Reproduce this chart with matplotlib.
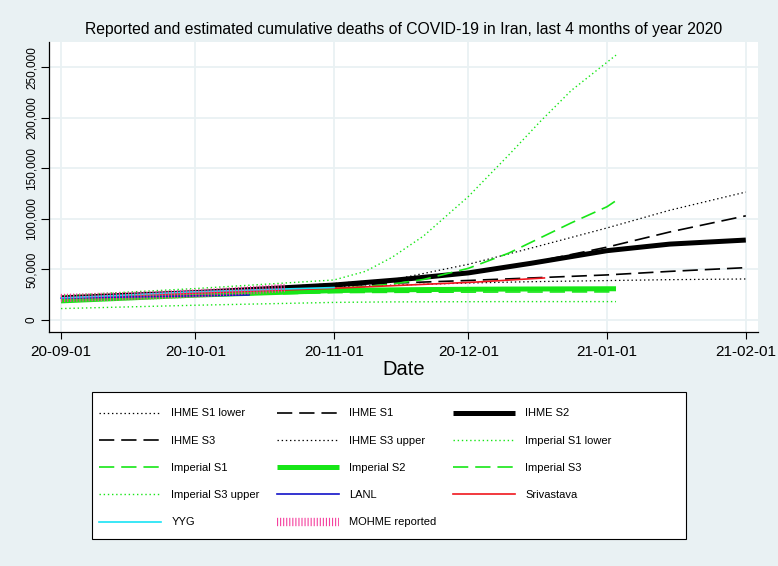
import numpy as np
import pandas as pd
import matplotlib
matplotlib.use('Agg')
import matplotlib.pyplot as plt
import matplotlib.dates as mdates
from matplotlib.patches import Rectangle
from matplotlib.ticker import FuncFormatter

plt.rcParams['font.family'] = ['Liberation Sans', 'DejaVu Sans']
plt.rcParams['lines.scale_dashes'] = False  # dash lengths in points

# cumulative deaths
ihme_dates = ['2020-09-01', '2020-10-01', '2020-11-01', '2020-11-15', '2020-12-01',
              '2020-12-15', '2021-01-01', '2021-01-15', '2021-02-01']
ihme_s1_lower = [21800, 26500, 32500, 34500, 36500, 37800, 38900, 39800, 40500]
ihme_s1 = [21900, 27100, 34700, 39800, 47000, 56500, 72000, 87000, 103000]
ihme_s2 = [21800, 27000, 34500, 39500, 46500, 56000, 68500, 75000, 79000]
ihme_s3 = [21800, 27000, 33500, 36500, 39000, 41500, 44500, 48000, 51700]
ihme_s3_upper = [22000, 27500, 36000, 40500, 55000, 71000, 91000, 108500, 126500]

imp_dates = ['2020-09-01', '2020-10-01', '2020-11-01', '2020-11-08', '2020-11-14', '2020-11-21',
             '2020-12-01', '2020-12-10', '2020-12-17', '2020-12-24', '2021-01-01', '2021-01-03']
imp_s1_lower = [11200, 14500, 17300, 17600, 17800, 17900, 18000, 18100, 18100, 18100, 18100, 18100]
imp_s1 = [19500, 25000, 31000, 33000, 35500, 40000, 51000, 66000, 81000, 96000, 112000, 118000]
imp_s2 = [18800, 24500, 29000, 29400, 29700, 30000, 30300, 30500, 30600, 30700, 30800, 30800]
imp_s3 = [18500, 24000, 27000, 27200, 27300, 27400, 27500, 27600, 27600, 27700, 27700, 27700]
imp_s3_upper = [24000, 31000, 39500, 48000, 62000, 83000, 122000, 163000, 196000, 227000, 255000, 262000]

lanl_dates = ['2020-09-01', '2020-09-15', '2020-10-01', '2020-10-13']
lanl = [21500, 22600, 23800, 24700]

sriv_dates = ['2020-09-18', '2020-10-01', '2020-11-01', '2020-12-03', '2020-12-18']
srivastava = [24700, 26500, 31300, 37500, 41500]

yyg_dates = ['2020-09-01', '2020-09-15', '2020-09-29', '2020-10-15', '2020-11-01']
yyg = [21800, 24500, 27500, 29800, 32000]

mohme_dates = ['2020-09-01', '2020-09-10', '2020-09-20', '2020-10-01', '2020-10-10', '2020-10-21']
mohme = [21600, 22800, 24100, 26200, 28300, 31600]

tick_dates = ['2020-09-01', '2020-10-01', '2020-11-01', '2020-12-01', '2021-01-01', '2021-02-01']

bg = '#e9f1f3'
green = '#17e617'
dot = (0, (1.0, 2.0))
dash = (0, (11, 5))

fig = plt.figure(figsize=(7.78, 5.66), dpi=100, facecolor=bg)
ax = fig.add_axes([0.063, 0.4134, 0.911, 0.5124])

d = pd.to_datetime
ax.plot(d(ihme_dates), ihme_s1_lower, color='black', lw=0.9, ls=dot, label='IHME S1 lower')
ax.plot(d(ihme_dates), ihme_s1, color='black', lw=1.2, ls=dash, label='IHME S1')
ax.plot(d(ihme_dates), ihme_s2, color='black', lw=3.6, solid_capstyle='butt', label='IHME S2')
ax.plot(d(ihme_dates), ihme_s3, color='black', lw=1.2, ls=dash, label='IHME S3')
ax.plot(d(ihme_dates), ihme_s3_upper, color='black', lw=0.9, ls=dot, label='IHME S3 upper')
ax.plot(d(imp_dates), imp_s1_lower, color=green, lw=1.0, ls=dot, label='Imperial S1 lower')
ax.plot(d(imp_dates), imp_s1, color=green, lw=1.2, ls=dash, label='Imperial S1')
ax.plot(d(imp_dates), imp_s2, color=green, lw=3.6, solid_capstyle='butt', label='Imperial S2')
ax.plot(d(imp_dates), imp_s3, color=green, lw=1.2, ls=dash, label='Imperial S3')
ax.plot(d(imp_dates), imp_s3_upper, color=green, lw=1.0, ls=dot, label='Imperial S3 upper')
ax.plot(d(lanl_dates), lanl, color='#1212c8', lw=1.2, label='LANL')
ax.plot(d(sriv_dates), srivastava, color='#f0161e', lw=1.2, label='Srivastava')
ax.plot(d(yyg_dates), yyg, color='#19e3f5', lw=1.2, label='YYG')
ax.plot(d(mohme_dates), mohme, color='#f5409e', lw=6, ls=(0, (0.8, 1.4)),
        dash_capstyle='butt', label='MOHME reported')

# axes look (Stata s2color style)
ax.set_facecolor('white')
for s in ['top', 'right']:
    ax.spines[s].set_visible(False)
for s in ['left', 'bottom']:
    ax.spines[s].set_linewidth(0.9)
ax.grid(True, color=bg, lw=1.3)
ax.set_axisbelow(True)

start = d('2020-09-01') - pd.Timedelta(days=2.67)
end = d('2021-02-01') + pd.Timedelta(days=2.67)
ax.set_xlim(start, end)
ax.set_ylim(-12000, 275000)
ax.set_xticks(d(tick_dates))
ax.xaxis.set_major_formatter(mdates.DateFormatter('%y-%m-%d'))
ax.set_yticks(np.arange(0, 250001, 50000))
ax.yaxis.set_major_formatter(FuncFormatter(lambda v, p: f'{int(v):,}'))
ax.tick_params(axis='x', length=5, width=0.8, labelsize=11, pad=4)
ax.tick_params(axis='y', length=5.5, width=0.8, labelsize=8.5, pad=2.5, labelrotation=90)
for lab in ax.get_yticklabels():
    lab.set_va('center')

ax.set_xlabel('Date', fontsize=14.5, labelpad=1)
ax.set_title('Reported and estimated cumulative deaths of COVID-19 in Iran, last 4 months of year 2020',
             fontsize=11.3, pad=6)

# legend: box drawn separately, three columns filled row by row
box = Rectangle((92 / 778, 1 - 539 / 566), (686 - 92) / 778, (539 - 392) / 566,
                transform=fig.transFigure, facecolor='white', edgecolor='black', lw=0.8)
fig.add_artist(box)
handles, labels = ax.get_legend_handles_labels()
col_x = [99, 277, 453]
for c in range(3):
    idx = list(range(c, len(handles), 3))
    fig.legend([handles[i] for i in idx], [labels[i] for i in idx],
               loc='upper left', bbox_to_anchor=(col_x[c] / 778, 1 - 408.5 / 566),
               ncol=1, frameon=False, borderpad=0, borderaxespad=0,
               handlelength=5.6, handletextpad=0.9, labelspacing=1.55,
               prop={'size': 8})

fig.savefig('out.png', dpi=100, facecolor=bg)
